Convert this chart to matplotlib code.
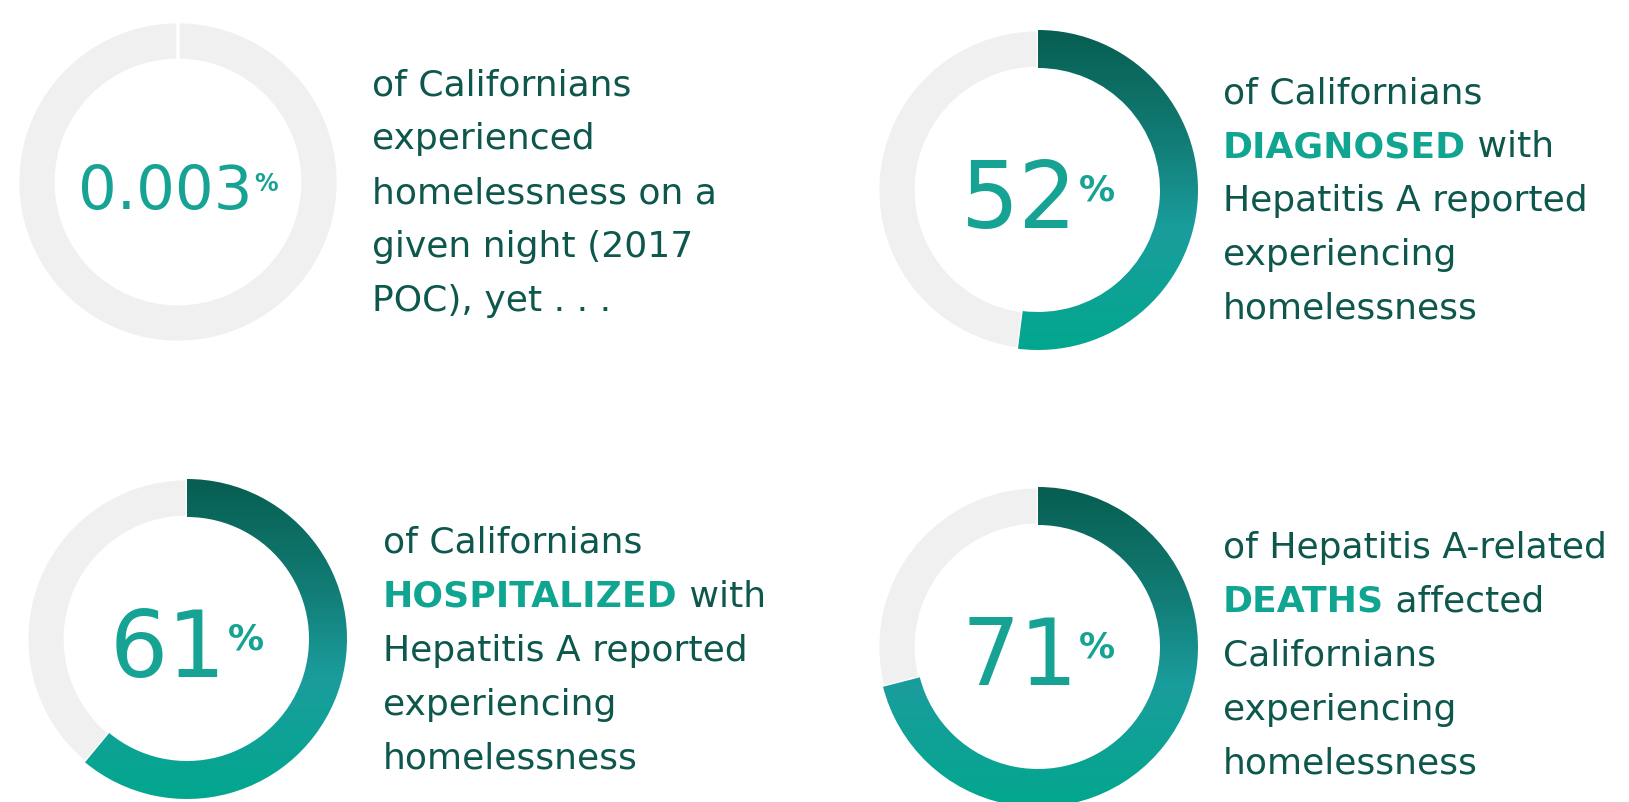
"""Hepatitis A / homelessness donut infographic."""

import numpy as np
import matplotlib
matplotlib.use("Agg")
import matplotlib.pyplot as plt
from matplotlib.colors import LinearSegmentedColormap
from matplotlib.patches import Wedge

# ---- data ---------------------------------------------------------------
values = [0.003, 52, 61, 71]
value_labels = ["0.003", "52", "61", "71"]
desc_1 = ["of Californians", "experienced", "homelessness on a",
          "given night (2017", "POC), yet . . ."]
desc_2 = ["of Californians", "DIAGNOSED| with", "Hepatitis A reported",
          "experiencing", "homelessness"]
desc_3 = ["of Californians", "HOSPITALIZED| with", "Hepatitis A reported",
          "experiencing", "homelessness"]
desc_4 = ["of Hepatitis A-related", "DEATHS| affected", "Californians",
          "experiencing", "homelessness"]
descriptions = [desc_1, desc_2, desc_3, desc_4]

# ---- layout (pixels, top-left origin) -----------------------------------
W, H = 1629, 803
centers = [(178, 183), (1038, 191), (187, 640), (1038, 648)]
big_sizes = [44, 66, 66, 66]
pct_sizes = [17, 26, 26, 26]
text_x = [372, 1223, 383, 1223]
text_first_baseline = [95, 103, 553, 558]
line_gap = 54
R, RING = 160, 38

TEAL_NUM = "#17a394"
TEAL_BOLD = "#10a591"
DARK_TEXT = "#0d574c"
GRAY = "#f0f0f0"
grad_cmap = LinearSegmentedColormap.from_list(
    "ring", [(0.0, "#075e51"), (0.35, "#127d76"), (0.62, "#1a9d9d"), (1.0, "#02a78e")])

fig = plt.figure(figsize=(W / 100, H / 100), dpi=100)
ax = fig.add_axes([0, 0, 1, 1])
ax.set_xlim(0, W)
ax.set_ylim(0, H)
ax.axis("off")

gradient = np.linspace(0, 1, 300).reshape(-1, 1)


def y_(py):
    return H - py


for (cx, cy), v in zip(centers, values):
    cy = y_(cy)
    sweep = 360.0 * v / 100.0
    ax.add_patch(Wedge((cx, cy), R, 90, 90 + 360 - sweep, width=RING,
                       facecolor=GRAY, edgecolor="white", linewidth=2.0, zorder=1))
    if sweep > 0.5:
        arc = Wedge((cx, cy), R, 90 - sweep, 90, width=RING,
                    facecolor="none", edgecolor="none")
        ax.add_patch(arc)
        im = ax.imshow(gradient, extent=[cx - R, cx + R, cy - R, cy + R],
                       cmap=grad_cmap, aspect="auto", origin="upper", zorder=2,
                       interpolation="bilinear")
        im.set_clip_path(arc)

ax.set_xlim(0, W)
ax.set_ylim(0, H)

fig.canvas.draw()
renderer = fig.canvas.get_renderer()

# big numbers with a small percent sign
num_font = "DejaVu Sans"
for (cx, cy), lab, bs, ps in zip(centers, value_labels, big_sizes, pct_sizes):
    digit_h = bs * 100 / 72 * 0.729
    base = y_(cy) - digit_h / 2 - 4
    t_num = ax.text(0, base, lab, fontsize=bs, color=TEAL_NUM, va="baseline",
                    ha="left", family=num_font, zorder=3)
    t_pct = ax.text(0, base, "%", fontsize=ps, color=TEAL_NUM, va="center",
                    ha="left", family=num_font, fontweight="bold", zorder=3)
    w_num = t_num.get_window_extent(renderer).width
    w_pct = t_pct.get_window_extent(renderer).width
    gap = 1
    x0 = cx - (w_num + gap + w_pct) / 2
    t_num.set_x(x0)
    t_pct.set_position((x0 + w_num + gap, base + digit_h * 0.57))

# description text blocks
body = dict(fontsize=26, va="baseline", ha="left", family="DejaVu Sans")
for lines, tx, fb in zip(descriptions, text_x, text_first_baseline):
    for i, line in enumerate(lines):
        yb = y_(fb + i * line_gap)
        if "|" in line:
            bold, rest = line.split("|")
            tb = ax.text(tx, yb, bold, color=TEAL_BOLD, fontweight="heavy", **body)
            wb = tb.get_window_extent(renderer).width
            ax.text(tx + wb, yb, rest, color=DARK_TEXT, **body)
        else:
            ax.text(tx, yb, line, color=DARK_TEXT, **body)

fig.savefig("out.png", dpi=100, facecolor="white")
